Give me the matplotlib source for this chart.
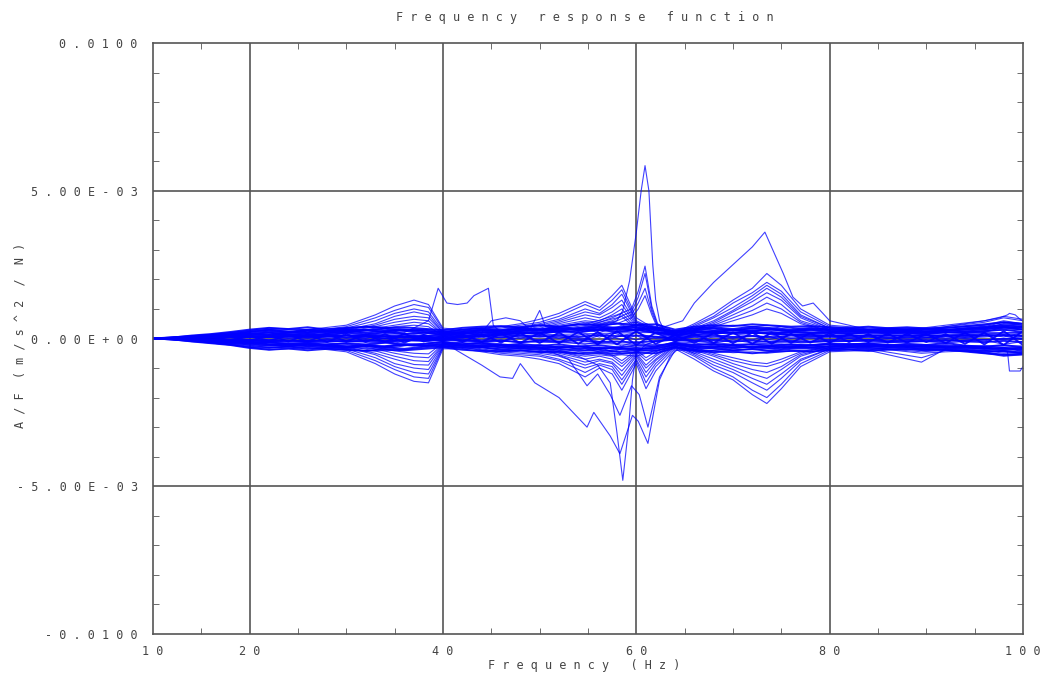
import numpy as np
import matplotlib
matplotlib.use("Agg")
import matplotlib.pyplot as plt
from matplotlib.ticker import MultipleLocator, FixedLocator

# values are read in units of 1e-3 (m/s^2 / N)
SCALE = 1e-3

# common frequency grid (Hz) for the fan curves
FREQ = [10, 14, 18, 22, 26, 30, 33, 35, 37, 38.5, 40, 42, 44, 46, 48, 50, 52, 54.7, 56.2, 57.5,
        58.5, 60, 61, 62, 64, 66, 68, 70, 72, 73.5, 75, 77, 80, 84, 89.5, 92, 96, 98, 100]

# finer grid for the dense noisy band around zero
BAND_F = [10, 12, 14, 16, 18, 20, 22, 24, 26, 28, 30, 32, 34, 36, 38, 40, 42, 44, 46, 48, 50, 52, 54,
          56, 58, 60, 62, 64, 66, 68, 70, 72, 74, 76, 78, 80, 82, 84, 86, 88, 90, 92, 94, 96, 98, 100]

BAND = [
    [0, 0.04, 0.08, 0.12, 0.18, 0.25, 0.3, 0.22, 0.3, 0.25, 0.32, 0.28, 0.33, 0.26, 0.3, 0.22, 0.3, 0.35, 0.28, 0.36, 0.3, 0.38, 0.33,
     0.42, 0.36, 0.44, 0.38, 0.25, 0.34, 0.38, 0.32, 0.4, 0.35, 0.3, 0.36, 0.3, 0.33, 0.28, 0.34, 0.3, 0.32, 0.28, 0.35, 0.4, 0.45, 0.4],
    [0, -0.03, -0.09, -0.14, -0.2, -0.28, -0.32, -0.27, -0.34, -0.3, -0.33, -0.26, -0.3, -0.35, -0.28, -0.25, -0.32, -0.3, -0.37, -0.33, -0.38, -0.35, -0.42,
     -0.38, -0.45, -0.4, -0.42, -0.28, -0.36, -0.32, -0.4, -0.36, -0.42, -0.35, -0.32, -0.36, -0.3, -0.35, -0.32, -0.3, -0.36, -0.33, -0.38, -0.45, -0.42, -0.48],
    [0, 0.02, 0.05, 0.1, 0.08, 0.15, 0.2, 0.12, 0.18, 0.1, 0.2, 0.14, 0.22, 0.15, 0.2, 0.12, 0.18, 0.24, 0.16, 0.22, 0.15, 0.25, 0.2,
     0.3, 0.22, 0.28, 0.2, 0.12, 0.2, 0.26, 0.18, 0.24, 0.16, 0.22, 0.18, 0.2, 0.15, 0.22, 0.17, 0.2, 0.14, 0.22, 0.18, 0.25, 0.3, 0.22],
    [0, -0.02, -0.06, -0.08, -0.12, -0.16, -0.12, -0.2, -0.14, -0.22, -0.16, -0.2, -0.13, -0.22, -0.18, -0.12, -0.2, -0.15, -0.24, -0.18, -0.25, -0.2, -0.28,
     -0.22, -0.3, -0.24, -0.26, -0.14, -0.22, -0.18, -0.25, -0.2, -0.26, -0.2, -0.24, -0.17, -0.22, -0.16, -0.24, -0.18, -0.22, -0.15, -0.24, -0.28, -0.22, -0.3],
    [0, 0.02, -0.03, 0.06, -0.05, 0.1, -0.08, 0.12, -0.1, 0.15, -0.1, 0.14, -0.12, 0.16, -0.1, 0.1, -0.12, 0.15, -0.14, 0.18, -0.15, 0.2, -0.18,
     0.22, -0.2, 0.25, -0.18, 0.12, -0.15, 0.18, -0.16, 0.2, -0.18, 0.16, -0.14, 0.18, -0.12, 0.15, -0.14, 0.16, -0.12, 0.15, -0.18, 0.2, -0.22, 0.25],
    [0, -0.02, 0.04, -0.05, 0.08, -0.08, 0.12, -0.1, 0.14, -0.12, 0.16, -0.12, 0.15, -0.14, 0.12, -0.08, 0.14, -0.12, 0.16, -0.15, 0.2, -0.16, 0.22,
     -0.2, 0.25, -0.22, 0.2, -0.1, 0.16, -0.15, 0.2, -0.18, 0.2, -0.15, 0.18, -0.14, 0.16, -0.12, 0.16, -0.14, 0.15, -0.16, 0.2, -0.2, 0.25, -0.22],
    [0, 0.03, 0.1, 0.15, 0.22, 0.3, 0.36, 0.32, 0.38, 0.3, 0.36, 0.4, 0.35, 0.38, 0.33, 0.28, 0.36, 0.4, 0.42, 0.38, 0.45, 0.4, 0.48,
     0.45, 0.5, 0.46, 0.48, 0.3, 0.4, 0.45, 0.42, 0.48, 0.44, 0.4, 0.42, 0.38, 0.36, 0.4, 0.35, 0.38, 0.34, 0.36, 0.42, 0.48, 0.55, 0.5],
    [0, -0.03, -0.1, -0.16, -0.22, -0.32, -0.38, -0.34, -0.4, -0.35, -0.38, -0.42, -0.36, -0.4, -0.35, -0.3, -0.38, -0.42, -0.44, -0.4, -0.46, -0.44, -0.5,
     -0.46, -0.52, -0.48, -0.5, -0.32, -0.42, -0.46, -0.44, -0.5, -0.45, -0.42, -0.44, -0.4, -0.38, -0.42, -0.38, -0.36, -0.4, -0.38, -0.44, -0.5, -0.55, -0.52],
    [0, 0.01, 0.03, 0.05, 0.1, 0.08, 0.05, 0.1, 0.04, 0.08, 0.02, 0.06, 0.0, 0.05, 0.02, 0.0, 0.04, 0.08, 0.04, 0.1, 0.06, 0.1, 0.05,
     0.12, 0.08, 0.1, 0.06, 0.02, 0.06, 0.1, 0.05, 0.08, 0.04, 0.1, 0.06, 0.08, 0.04, 0.06, 0.02, 0.06, 0.04, 0.08, 0.05, 0.1, 0.12, 0.08],
    [0, -0.01, -0.04, -0.03, -0.08, -0.05, -0.1, -0.06, -0.1, -0.04, -0.08, -0.05, -0.1, -0.06, -0.08, -0.03, -0.06, -0.1, -0.07, -0.12, -0.08, -0.1, -0.06,
     -0.12, -0.1, -0.14, -0.08, -0.04, -0.08, -0.06, -0.1, -0.07, -0.12, -0.08, -0.1, -0.06, -0.08, -0.05, -0.1, -0.06, -0.08, -0.05, -0.1, -0.12, -0.08, -0.12],
    [0, 0.03, 0.07, 0.12, 0.14, 0.22, 0.26, 0.2, 0.28, 0.24, 0.27, 0.2, 0.26, 0.3, 0.25, 0.18, 0.25, 0.3, 0.26, 0.32, 0.27, 0.33, 0.3,
     0.36, 0.34, 0.38, 0.32, 0.2, 0.28, 0.33, 0.28, 0.35, 0.3, 0.26, 0.3, 0.27, 0.3, 0.26, 0.28, 0.25, 0.3, 0.27, 0.32, 0.36, 0.4, 0.36],
    [0, -0.03, -0.07, -0.11, -0.15, -0.2, -0.24, -0.2, -0.26, -0.22, -0.28, -0.24, -0.27, -0.22, -0.25, -0.2, -0.26, -0.24, -0.3, -0.27, -0.32, -0.28, -0.34,
     -0.3, -0.36, -0.33, -0.35, -0.22, -0.3, -0.26, -0.32, -0.28, -0.33, -0.28, -0.3, -0.26, -0.28, -0.25, -0.28, -0.24, -0.28, -0.26, -0.3, -0.35, -0.32, -0.38],
    [0, 0.02, 0.06, 0.08, 0.12, 0.18, 0.1, 0.2, 0.26, 0.18, 0.24, 0.3, 0.22, 0.28, 0.2, 0.15, 0.22, 0.28, 0.2, 0.26, 0.32, 0.26, 0.35,
     0.28, 0.38, 0.3, 0.36, 0.18, 0.26, 0.2, 0.3, 0.26, 0.32, 0.24, 0.3, 0.22, 0.26, 0.2, 0.24, 0.28, 0.22, 0.26, 0.3, 0.32, 0.38, 0.3],
    [0, -0.02, -0.05, -0.1, -0.14, -0.1, -0.2, -0.26, -0.18, -0.25, -0.3, -0.22, -0.28, -0.2, -0.24, -0.16, -0.22, -0.28, -0.22, -0.3, -0.24, -0.32, -0.26,
     -0.36, -0.3, -0.38, -0.3, -0.18, -0.26, -0.3, -0.24, -0.32, -0.26, -0.3, -0.24, -0.28, -0.22, -0.26, -0.22, -0.28, -0.24, -0.3, -0.26, -0.3, -0.36, -0.32],
]

# smoother curves that stay close to zero
CORE = [
    [0, 0.08, 0.2, 0.35, 0.3, 0.35, 0.4, 0.35, 0.3, 0.25, 0.2, 0.3, 0.35, 0.4, 0.35, 0.45, 0.4, 0.5, 0.45, 0.55,
     0.5, 0.55, 0.45, 0.35, 0.25, 0.35, 0.4, 0.45, 0.4, 0.45, 0.4, 0.35, 0.3, 0.35, 0.3, 0.35, 0.45, 0.55, 0.5],
    [0, -0.08, -0.22, -0.38, -0.32, -0.38, -0.42, -0.4, -0.35, -0.3, -0.25, -0.3, -0.38, -0.42, -0.4, -0.45, -0.48, -0.52, -0.5, -0.58,
     -0.55, -0.6, -0.5, -0.4, -0.28, -0.38, -0.42, -0.48, -0.45, -0.5, -0.45, -0.4, -0.35, -0.38, -0.35, -0.38, -0.48, -0.58, -0.55],
    [0, 0.05, 0.12, 0.2, 0.1, 0.25, 0.15, 0.3, 0.2, 0.1, 0.15, 0.05, 0.2, 0.1, 0.3, 0.2, 0.35, 0.25, 0.4, 0.3,
     0.45, 0.35, 0.3, 0.2, 0.15, 0.1, 0.25, 0.3, 0.2, 0.35, 0.25, 0.3, 0.2, 0.25, 0.15, 0.3, 0.2, 0.4, 0.3],
    [0, -0.05, -0.1, -0.2, -0.25, -0.15, -0.3, -0.2, -0.25, -0.15, -0.1, -0.2, -0.15, -0.3, -0.2, -0.35, -0.25, -0.4, -0.3, -0.45,
     -0.35, -0.4, -0.3, -0.25, -0.15, -0.25, -0.2, -0.35, -0.25, -0.3, -0.35, -0.25, -0.2, -0.3, -0.25, -0.2, -0.35, -0.3, -0.45],
    [0, 0.03, 0.05, 0.1, 0.15, 0.05, 0.1, 0.0, 0.1, 0.05, 0.0, 0.1, 0.05, 0.15, 0.05, 0.1, 0.0, 0.15, 0.05, 0.2,
     0.1, 0.2, 0.1, 0.05, 0.0, 0.1, 0.05, 0.15, 0.1, 0.05, 0.15, 0.1, 0.05, 0.1, 0.0, 0.1, 0.15, 0.05, 0.2],
    [0, -0.02, -0.05, -0.1, -0.05, -0.12, -0.05, -0.15, -0.05, -0.1, -0.05, 0.0, -0.1, -0.05, -0.15, -0.05, -0.1, -0.2, -0.1, -0.15,
     -0.25, -0.1, -0.2, -0.1, -0.05, -0.1, -0.15, -0.05, -0.15, -0.1, -0.05, -0.15, -0.1, -0.05, -0.1, -0.15, -0.05, -0.2, -0.1],
    [0, 0.06, 0.15, 0.3, 0.2, 0.3, 0.25, 0.2, 0.15, 0.2, 0.25, 0.15, 0.3, 0.25, 0.35, 0.3, 0.25, 0.4, 0.35, 0.3,
     0.4, 0.45, 0.5, 0.4, 0.2, 0.3, 0.35, 0.25, 0.35, 0.3, 0.4, 0.3, 0.35, 0.25, 0.35, 0.3, 0.35, 0.5, 0.45],
    [0, -0.06, -0.18, -0.3, -0.25, -0.3, -0.35, -0.3, -0.2, -0.25, -0.2, -0.25, -0.3, -0.25, -0.35, -0.3, -0.4, -0.35, -0.45, -0.4,
     -0.5, -0.45, -0.4, -0.35, -0.2, -0.3, -0.35, -0.4, -0.35, -0.4, -0.35, -0.3, -0.3, -0.25, -0.3, -0.3, -0.4, -0.45, -0.5],
    [0, 0.02, 0.1, 0.15, 0.25, 0.2, 0.3, 0.25, 0.05, -0.05, 0.05, 0.2, 0.1, 0.2, 0.15, 0.25, 0.2, 0.3, 0.2, 0.35,
     0.25, 0.3, 0.4, 0.3, 0.1, 0.2, 0.15, 0.2, 0.3, 0.25, 0.2, 0.25, 0.15, 0.2, 0.25, 0.2, 0.3, 0.35, 0.4],
    [0, -0.03, -0.12, -0.15, -0.2, -0.25, -0.2, -0.1, -0.05, 0.0, -0.1, -0.15, -0.25, -0.2, -0.25, -0.2, -0.3, -0.25, -0.35, -0.3,
     -0.35, -0.3, -0.35, -0.3, -0.1, -0.15, -0.25, -0.2, -0.3, -0.25, -0.2, -0.25, -0.15, -0.2, -0.2, -0.25, -0.3, -0.4, -0.35],
    [0, 0.04, 0.08, 0.05, 0.0, 0.1, -0.05, 0.05, -0.05, 0.05, -0.05, 0.05, -0.05, 0.05, 0.0, 0.1, 0.05, -0.05, 0.1, 0.0,
     0.1, -0.05, 0.05, 0.0, 0.05, -0.05, 0.05, 0.0, 0.1, -0.05, 0.05, 0.0, 0.05, -0.05, 0.05, 0.0, 0.05, 0.1, -0.05],
    [0, -0.04, -0.02, -0.05, 0.05, -0.05, 0.05, -0.05, 0.0, -0.05, 0.05, -0.05, 0.05, -0.1, 0.05, -0.05, 0.05, 0.0, -0.1, 0.05,
     -0.05, 0.1, -0.05, 0.05, -0.05, 0.05, -0.05, 0.05, -0.05, 0.1, -0.05, 0.05, -0.05, 0.05, -0.05, 0.05, -0.05, 0.0, 0.05],
]

# upper fan of curves
UPPER = [
    [0, 0.05, 0.15, 0.3, 0.3, 0.45, 0.8, 1.1, 1.3, 1.15, 0.35, 0.3, 0.35, 0.4, 0.5, 0.65, 0.85, 1.25, 1.05, 1.45,
     1.8, 0.7, 0.5, 0.35, 0.2, 0.5, 0.85, 1.3, 1.7, 2.2, 1.8, 1.0, 0.45, 0.35, 0.35, 0.45, 0.6, 0.75, 0.65],
    [0, 0.04, 0.12, 0.25, 0.25, 0.4, 0.7, 0.95, 1.15, 1.05, 0.3, 0.25, 0.3, 0.35, 0.45, 0.55, 0.75, 1.15, 0.95, 1.3,
     1.65, 0.6, 0.45, 0.3, 0.15, 0.45, 0.75, 1.2, 1.55, 1.9, 1.6, 0.9, 0.4, 0.3, 0.3, 0.4, 0.55, 0.7, 0.6],
    [0, 0.03, 0.1, 0.22, 0.2, 0.35, 0.6, 0.85, 1.0, 0.9, 0.25, 0.2, 0.25, 0.3, 0.4, 0.5, 0.65, 1.0, 0.85, 1.15,
     1.5, 0.55, 0.4, 0.25, 0.15, 0.4, 0.7, 1.05, 1.45, 1.8, 1.5, 0.8, 0.35, 0.3, 0.25, 0.35, 0.45, 0.6, 0.5],
    [0, 0.03, 0.08, 0.2, 0.2, 0.3, 0.5, 0.75, 0.9, 0.8, 0.2, 0.2, 0.2, 0.25, 0.35, 0.45, 0.6, 0.9, 0.8, 1.05,
     1.3, 0.5, 0.4, 0.25, 0.1, 0.35, 0.6, 0.95, 1.35, 1.7, 1.4, 0.75, 0.35, 0.25, 0.25, 0.3, 0.4, 0.55, 0.45],
    [0, 0.02, 0.08, 0.15, 0.18, 0.28, 0.45, 0.65, 0.75, 0.7, 0.2, 0.15, 0.2, 0.25, 0.3, 0.4, 0.55, 0.8, 0.7, 0.9,
     1.15, 0.45, 0.35, 0.2, 0.1, 0.3, 0.55, 0.9, 1.25, 1.55, 1.3, 0.7, 0.3, 0.25, 0.2, 0.3, 0.35, 0.5, 0.45],
    [0, 0.02, 0.06, 0.15, 0.15, 0.25, 0.4, 0.55, 0.65, 0.6, 0.15, 0.15, 0.2, 0.2, 0.3, 0.35, 0.5, 0.7, 0.6, 0.8,
     1.0, 0.4, 0.3, 0.2, 0.1, 0.3, 0.5, 0.8, 1.1, 1.4, 1.15, 0.6, 0.3, 0.2, 0.2, 0.25, 0.35, 0.45, 0.4],
    [0, 0.02, 0.05, 0.12, 0.12, 0.2, 0.35, 0.45, 0.55, 0.5, 0.15, 0.1, 0.15, 0.2, 0.25, 0.3, 0.45, 0.6, 0.55, 0.7,
     0.85, 0.35, 0.3, 0.2, 0.05, 0.25, 0.45, 0.7, 0.95, 1.2, 1.0, 0.55, 0.25, 0.2, 0.2, 0.2, 0.3, 0.4, 0.35],
    [0, 0.01, 0.05, 0.1, 0.1, 0.18, 0.3, 0.4, 0.45, 0.4, 0.1, 0.1, 0.15, 0.15, 0.2, 0.3, 0.4, 0.55, 0.5, 0.6,
     0.75, 0.3, 0.25, 0.15, 0.05, 0.2, 0.4, 0.6, 0.8, 1.0, 0.85, 0.5, 0.25, 0.15, 0.15, 0.2, 0.25, 0.35, 0.3],
]

# lower fan of curves
LOWER = [
    [0, -0.05, -0.15, -0.3, -0.3, -0.45, -0.85, -1.2, -1.45, -1.5, -0.35, -0.35, -0.45, -0.55, -0.6, -0.7, -0.85, -1.3, -1.0, -1.2,
     -1.75, -0.85, -1.7, -1.1, -0.35, -0.7, -1.1, -1.4, -1.9, -2.2, -1.7, -0.95, -0.45, -0.4, -0.8, -0.35, -0.5, -0.6, -0.55],
    [0, -0.04, -0.12, -0.25, -0.25, -0.4, -0.75, -1.05, -1.3, -1.35, -0.3, -0.3, -0.4, -0.5, -0.55, -0.6, -0.75, -1.15, -0.9, -1.05,
     -1.55, -0.75, -1.5, -0.95, -0.3, -0.6, -1.0, -1.3, -1.75, -2.0, -1.55, -0.85, -0.4, -0.35, -0.65, -0.4, -0.45, -0.55, -0.5],
    [0, -0.03, -0.1, -0.22, -0.22, -0.35, -0.65, -0.95, -1.15, -1.2, -0.28, -0.25, -0.35, -0.45, -0.5, -0.55, -0.7, -1.0, -0.85, -0.95,
     -1.4, -0.7, -1.3, -0.85, -0.25, -0.55, -0.9, -1.15, -1.5, -1.75, -1.35, -0.75, -0.35, -0.3, -0.5, -0.45, -0.4, -0.5, -0.45],
    [0, -0.03, -0.08, -0.2, -0.2, -0.3, -0.55, -0.85, -1.0, -1.05, -0.25, -0.25, -0.3, -0.4, -0.45, -0.5, -0.6, -0.9, -0.75, -0.85,
     -1.25, -0.6, -1.15, -0.75, -0.25, -0.5, -0.8, -1.05, -1.35, -1.55, -1.2, -0.7, -0.35, -0.3, -0.45, -0.4, -0.4, -0.45, -0.4],
    [0, -0.02, -0.07, -0.16, -0.18, -0.28, -0.5, -0.7, -0.88, -0.9, -0.22, -0.2, -0.3, -0.35, -0.4, -0.45, -0.55, -0.8, -0.7, -0.8,
     -1.1, -0.55, -1.0, -0.7, -0.2, -0.45, -0.7, -0.95, -1.2, -1.35, -1.05, -0.6, -0.3, -0.25, -0.4, -0.35, -0.35, -0.4, -0.35],
    [0, -0.02, -0.06, -0.14, -0.15, -0.25, -0.42, -0.6, -0.75, -0.78, -0.2, -0.2, -0.25, -0.3, -0.35, -0.4, -0.5, -0.7, -0.6, -0.7,
     -0.95, -0.5, -0.9, -0.6, -0.2, -0.4, -0.6, -0.85, -1.05, -1.15, -0.95, -0.55, -0.3, -0.25, -0.35, -0.3, -0.3, -0.35, -0.3],
    [0, -0.02, -0.05, -0.12, -0.12, -0.2, -0.35, -0.5, -0.62, -0.65, -0.18, -0.15, -0.2, -0.25, -0.3, -0.35, -0.45, -0.6, -0.55, -0.6,
     -0.85, -0.45, -0.75, -0.55, -0.15, -0.35, -0.55, -0.75, -0.9, -0.95, -0.8, -0.5, -0.25, -0.2, -0.3, -0.3, -0.25, -0.3, -0.3],
    [0, -0.01, -0.04, -0.1, -0.1, -0.18, -0.3, -0.42, -0.5, -0.52, -0.15, -0.15, -0.2, -0.2, -0.25, -0.3, -0.4, -0.55, -0.5, -0.55,
     -0.75, -0.4, -0.65, -0.45, -0.15, -0.3, -0.5, -0.65, -0.8, -0.85, -0.7, -0.45, -0.25, -0.2, -0.25, -0.25, -0.25, -0.25, -0.25],
]

# single curves with their own frequency points
PEAK_F = [10, 30, 40, 50, 56, 58, 58.6, 59.3, 60, 60.5, 60.9, 61.3, 61.7, 62, 62.4, 63, 64, 70, 80, 90, 100]
PEAK_V = [0, 0.1, 0.0, 0.2, 0.3, 0.6, 0.95, 1.95, 3.6, 5.0, 5.85, 5.0, 2.5, 1.3, 0.6, 0.2, 0.05, 0.2, 0.1, 0.1, 0.2]

TROUGH_F = [10, 30, 40, 50, 54, 56, 57.3, 58.0, 58.6, 59.2, 59.6, 60, 61, 62, 64, 70, 80, 90, 100]
TROUGH_V = [0, -0.1, -0.05, -0.3, -0.6, -0.9, -1.5, -3.2, -4.8, -3.0, -1.4, -0.5, -0.2, -0.1, 0.0, -0.2, -0.1, -0.1, 0.0]

DEEP_F = [10, 30, 38, 40, 41.4, 44, 45.9, 47.2, 48, 49.5, 52, 54.9, 55.6, 57.3, 58.3, 59.0, 59.6, 60.2, 61.2,
          62.4, 63.5, 64.5, 66, 70, 80, 90, 100]
DEEP_V = [0, -0.1, -0.2, -0.1, -0.4, -0.9, -1.3, -1.35, -0.85, -1.5, -2.0, -3.0, -2.5, -3.3, -3.9, -3.2, -2.6, -2.8, -3.55,
          -1.4, -0.6, -0.3, -0.5, -0.3, -0.2, -0.1, 0.0]

DIP_F = [10, 30, 40, 50, 53, 54.9, 56, 57.3, 58.3, 59.5, 60.3, 61.2, 62.4, 64, 70, 80, 100]
DIP_V = [0, -0.1, 0.0, -0.3, -0.7, -1.6, -1.2, -1.9, -2.6, -1.6, -1.9, -3.0, -1.3, -0.4, -0.4, -0.2, 0.0]

STEP_F = [10, 30, 36, 38.5, 39.5, 40.4, 41.5, 42.5, 43.2, 44.7, 45.2, 46, 50, 60, 70, 80, 100]
STEP_V = [0, 0.1, 0.2, 0.6, 1.7, 1.2, 1.15, 1.2, 1.45, 1.7, 0.45, 0.2, 0.3, 0.3, 0.2, 0.1, 0.1]

BUMP_F = [10, 30, 40, 44, 45, 46.5, 48, 49, 50, 50.6, 52, 60, 70, 80, 100]
BUMP_V = [0, 0.1, 0.1, 0.2, 0.6, 0.7, 0.6, 0.3, 0.95, 0.4, 0.3, 0.3, 0.2, 0.1, 0.1]

SECOND_F = [10, 30, 40, 50, 55, 58, 59.5, 60.2, 60.9, 61.6, 62.2, 64, 70, 80, 100]
SECOND = [
    [0, 0.15, 0.1, 0.3, 0.5, 0.8, 1.0, 1.6, 2.45, 1.1, 0.5, 0.2, 0.3, 0.2, 0.2],
    [0, 0.1, 0.05, 0.25, 0.45, 0.7, 0.9, 1.4, 2.2, 1.0, 0.45, 0.15, 0.25, 0.15, 0.15],
    [0, 0.1, 0.05, 0.2, 0.4, 0.6, 0.8, 1.2, 1.7, 0.9, 0.4, 0.1, 0.2, 0.1, 0.1],
    [0, 0.05, 0.05, 0.2, 0.35, 0.5, 0.7, 1.0, 1.45, 0.8, 0.35, 0.1, 0.2, 0.1, 0.1],
]

HUMP_F = [10, 30, 40, 50, 60, 62, 64.8, 66, 68, 70, 72, 73.3, 75.2, 76.2, 77.2, 78.3, 79.3, 80, 84, 90, 100]
HUMP_V = [0, 0.1, 0.0, 0.2, 0.3, 0.3, 0.6, 1.2, 1.9, 2.5, 3.1, 3.6, 2.2, 1.4, 1.1, 1.2, 0.85, 0.6, 0.3, 0.2, 0.3]

TAIL_F = [10, 30, 40, 60, 80, 91.4, 96, 97.6, 98.4, 98.6, 99.2, 99.7, 100]
TAIL_HI = [0, 0.1, 0.05, 0.2, 0.2, 0.37, 0.6, 0.7, 0.8, 0.85, 0.8, 0.65, 0.6]
TAIL_LO = [0, -0.1, -0.05, -0.2, -0.2, -0.3, -0.35, -0.4, -0.45, -1.1, -1.1, -1.1, -0.95]


def spaced(s):
    # the original plot software draws text with wide letter spacing
    return " ".join(s)


fig = plt.figure(figsize=(10.47, 6.77), dpi=100)
ax = fig.add_axes([153 / 1047, 1 - 634 / 677, 870 / 1047, 591 / 677])

line_kw = dict(color="#0000ff", lw=0.8, alpha=0.75)

for vals in BAND:
    ax.plot(BAND_F, np.array(vals) * SCALE, color="#0000ff", lw=1.4, alpha=0.9)
for vals in CORE:
    ax.plot(FREQ, np.array(vals) * SCALE, **line_kw)
for vals in UPPER + LOWER:
    ax.plot(FREQ, np.array(vals) * SCALE, **line_kw)
for vals in SECOND:
    ax.plot(SECOND_F, np.array(vals) * SCALE, **line_kw)

ax.plot(PEAK_F, np.array(PEAK_V) * SCALE, **line_kw)
ax.plot(TROUGH_F, np.array(TROUGH_V) * SCALE, **line_kw)
ax.plot(DEEP_F, np.array(DEEP_V) * SCALE, **line_kw)
ax.plot(DIP_F, np.array(DIP_V) * SCALE, **line_kw)
ax.plot(STEP_F, np.array(STEP_V) * SCALE, **line_kw)
ax.plot(BUMP_F, np.array(BUMP_V) * SCALE, **line_kw)
ax.plot(HUMP_F, np.array(HUMP_V) * SCALE, **line_kw)
ax.plot(TAIL_F, np.array(TAIL_HI) * SCALE, **line_kw)
ax.plot(TAIL_F, np.array(TAIL_LO) * SCALE, **line_kw)

ax.set_xlim(10, 100)
ax.set_ylim(-0.01, 0.01)

#grid lines
for x in [20, 40, 60, 80]:
    ax.axvline(x, color="#555555", lw=1.2, zorder=0)
for y in [-0.005, 0, 0.005]:
    ax.axhline(y, color="#555555", lw=1.2, zorder=0)

for sp in ax.spines.values():
    sp.set_color("#555555")
    sp.set_linewidth(1.2)

mono = dict(family="DejaVu Sans Mono", fontsize=8.5, color="#444444")

ax.xaxis.set_major_locator(FixedLocator([10, 20, 40, 60, 80, 100]))
ax.set_xticklabels([spaced(str(v)) for v in [10, 20, 40, 60, 80, 100]], **mono)
ax.xaxis.set_minor_locator(MultipleLocator(5))
ax.yaxis.set_major_locator(FixedLocator([-0.01, -0.005, 0, 0.005, 0.01]))
ax.set_yticklabels([spaced(s) for s in ["-0.0100", "-5.00E-03", "0.00E+00", "5.00E-03", "0.0100"]], **mono)
ax.yaxis.set_minor_locator(MultipleLocator(0.001))

ax.tick_params(which="major", length=0, pad=8)
ax.tick_params(axis="y", which="major", pad=11)
ax.tick_params(which="minor", direction="in", length=4, color="#555555",
               top=True, right=True, bottom=True, left=True)

fig.text(585 / 1047, 1 - 17 / 677, spaced("Frequency") + "   " + spaced("response") + "   " + spaced("function"),
         ha="center", va="center", **mono)
fig.text(584 / 1047, 1 - 665 / 677, spaced("Frequency") + "   " + spaced("(Hz)"),
         ha="center", va="center", **mono)
fig.text(20 / 1047, 1 - 335 / 677, spaced("A/F") + "  " + spaced("(m/s^2") + "  /  " + spaced("N)"),
         ha="center", va="center", rotation=90, **mono)

fig.savefig("out.png", dpi=100)
